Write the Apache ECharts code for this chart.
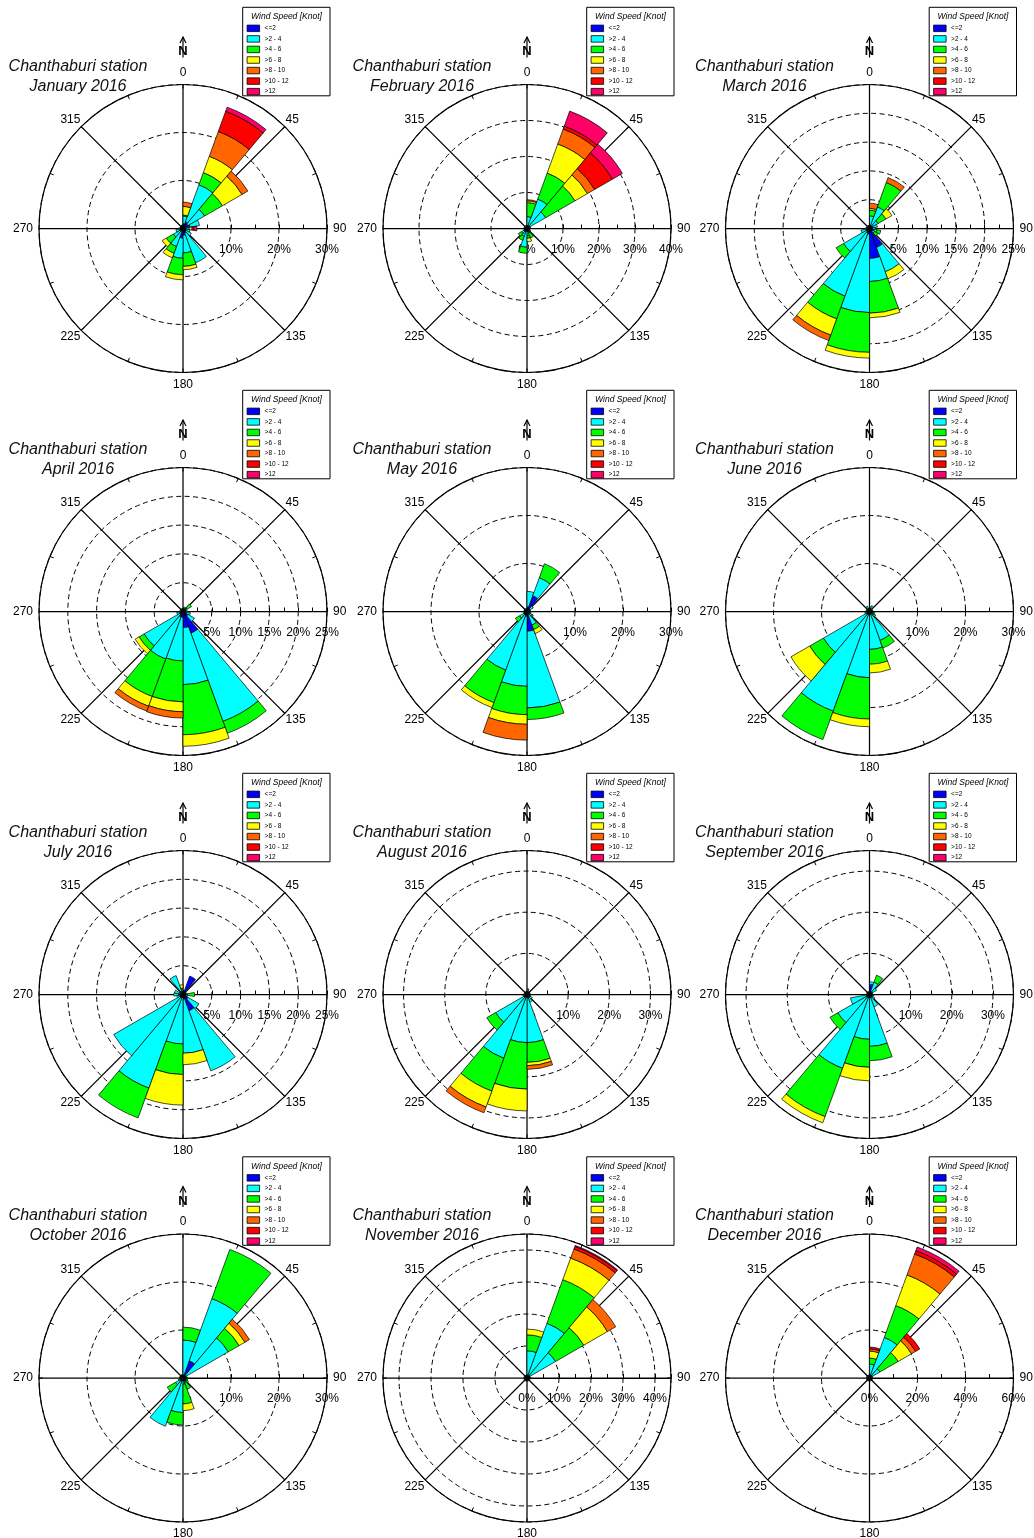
<!DOCTYPE html>
<html><head><meta charset="utf-8">
<script src="https://cdn.jsdelivr.net/npm/echarts@6/dist/echarts.min.js"></script>
<style>html,body{margin:0;padding:0;background:#fff}#c{width:1034px;height:1538px}</style>
</head><body><div id="c"></div>
<script>
// ---------------- DATA ----------------
const stationName = 'Chanthaburi station';
const months = ['January 2016','February 2016','March 2016','April 2016','May 2016','June 2016',
  'July 2016','August 2016','September 2016','October 2016','November 2016','December 2016'];
const legendTitle = 'Wind Speed [Knot]';
const speedClasses = ['<=2','>2 - 4','>4 - 6','>6 - 8','>8 - 10','>10 - 12','>12'];
const speedColors = ['#0000FF','#00FFFF','#00FF00','#FFFF00','#FF6600','#FF0000','#FF0066'];
// 18 direction sectors of 20 degrees, clockwise from north
const dirBins = ['0-20','20-40','40-60','60-80','80-100','100-120','120-140','140-160','160-180',
  '180-200','200-220','220-240','240-260','260-280','280-300','300-320','320-340','340-360'];
// radial scale of each rose (percent) and label step
const radiusMax  = [30,40,25,25,30,30,25,35,35,30,45,60];
const radiusStep = [10,10,5,5,10,10,5,10,10,10,10,20];
const showMaxPct = [true,true,true,true,true,true,true,false,false,true,false,true];

// frequency (%) per sector: [<=2, >2-4, >4-6, >6-8, >8-10, >10-12, >12]
const jan = [
 [1.0,1.6,0.2,1.8,0.9],[1.5,8.2,2.7,3.6,5.5,4.5,0.9],[1.2,4.0,4.3,4.7,1.4],[1.5,2.0],
 [0.5,0.8,0,0.6,0,0.4,0.6],[0.5,1.0],[0.5,1.5],[1.0,6.6],[1.4,3.7,2.8,0.7],
 [2.0,4.2,3.45,1.05],[0.5,3.5,1.5,1.0],[0.3,2.0,1.7,1.0],[0.3,1.2],
 [0.3,0.5],[0.2,0.3],[0.2,0.3],[0.3,0.3],[0.3,0.5]];
const feb = [
 [0.5,2.8,3.9,0.5,0.3],[0.5,8.2,7.7,8.6,4.4,0.9,4.4],[0.5,5.5,9.4,4.0,2.3,5.7,3.2],[0.3,0.7],
 [0.2,0.3],[0.2,0.5],[0.3,0.8],[0.3,1.0,1.5],[0.5,1.5,0.7,1.0],
 [0.5,4.7,1.7],[0.3,2.0,1.2],[0.3,1.5,1.0],[0.2,0.6],
 [0.2,0.3],[0.2,0.3],[0.2,0.3],[0.2,0.3],[0.2,0.3]];
const mar = [
 [0.5,1.7,1.0,0.3,0.9],[0.5,3.5,4.5,0,0.9],[0.4,1.3,1.6,1.2],[0.4,1.0],
 [0.4,0.6],[0.8,0.5,0.7],[0.6,0.4,0.7],[3.5,4.5,0,1.3],[5.2,4.0,5.5,0.8],
 [1.0,13.6,6.9,1.0],[0.8,11.7,4.2,3.0,1.0],[0.5,4.7,1.5],[0.3,1.2],
 [0.3,0.4],[0.2,0.3],[0.2,0.3],[0.2,0.3],[0.2,0.3]];
const apr = [
 [0.3,0.3],[0.3,0.5],[0.3,0.5,0.9],[0.2,0.3],
 [0.3,0.5],[0.5,0.8],[1.0,1.3],[4.0,16.3,2.2],[2.8,9.9,8.7,2.0],
 [1.0,7.6,7.1,1.7,1.1],[1.0,7.8,6.9,1.8,0.9],[0.5,7.3,1.0,0.8],[0.3,0.8],
 [0.2,0.2],[0.2,0.2],[0.2,0.2],[0.2,0.2],[0.2,0.2]];
const may = [
 [1.0,3.2],[3.5,4.0,3.1],[0.5,1.0],[0.3,0.4],
 [0.3,0.3],[0.3,0.5],[0.4,0.8,0.3],[0.5,2.5,1.0,0.9],[4.1,16.0,2.4],
 [1.0,14.6,5.9,2.0,3.3],[0.8,12.2,7.2,1.1],[0.3,1.5,1.0],[0.2,0.5],
 [0.2,0.3],[0.2,0.3],[0.2,0.3],[0.2,0.3],[0.2,0.3]];
const jun = [
 [0.3,0.7],[0.3,1.0],[0.2,0.4],[0.2,0.3],
 [0.2,0.3,0.3],[0.3,0.5,0.3],[0.3,0.8,0.4],[0.5,5.9,1.7],[0.5,7.4,3.1,1.8],
 [0.5,13.3,8.6,1.6],[0.5,21.6,6.3],[0.5,10.6,3.3,4.5],[0.3,0.7],
 [0.3,0.5],[0.2,0.4],[0.2,0.5],[0.3,0.9],[0.2,0.5]];
const jul = [
 [0.3,0.3],[3.4],[0.3,0.3],[0.3,0.3],
 [0.3,0.5,1.2],[0.3,0.5],[1.0,2.2],[3.0,11.1],[0.8,9.4,0,2.0],
 [0.5,8.1,5.3,5.3],[0.5,16.8,5.5],[0.5,13.4],[0.3,0.8],
 [0.8,0.8],[0.3,1.2],[0.3,0.5],[0.5,3.0],[0.3,0.5,0.3,0.6]];
const aug = [
 [0,0.5,0.3,0.2,0.4],[0.3,0.3],[0.3,0.3],[0.2,0.3],
 [0.3,0.5],[0.3,0.6],[0.3,1.2],[0.5,1.5],[0.5,11.2,4.8,0.8,0.9],
 [0.5,11.2,11.3,5.3],[0.5,16.0,8.5,4.1,1.5],[0.5,8.3,2.5],[0.3,0.7],
 [0.2,0.3],[0.2,0.3],[0.2,0.3],[0.2,0.3],[0.2,0.3]];
const sep = [
 [2.5,0.6],[0.5,2.7,1.8],[0.5,1.5],[0.2,0.4],
 [0.2,0.4],[0.3,0.7],[0.3,1.2],[0.5,2.7],[0.5,12.1,3.5],
 [0.5,10.4,6.8,3.3],[0.5,18.6,12.5,1.6],[0.5,8.4,2.2],[0.3,4.4],
 [0.2,0.5],[0.2,0.3],[0.2,0.3],[0.2,0.3],[0.2,0.3]];
const oct = [
 [0.5,7.4,2.7],[3.8,13.8,10.9],[0.5,10.4,2.6,1.4,1.1],[0.3,0.5],
 [0.3,0.4,0.3],[0.3,0.4,0.3],[0.3,0.5,0.5],[0.3,0.7,1.5],[0.5,0.8,4.1,1.4],
 [0.5,6.7,2.6],[0.5,10.2],[0.3,1.5,2.0],[0.2,0.4,0.4],
 [0.2,0.3,0.2],[0.2,0.3,0.2],[0.2,0.3,0.2],[0.2,0.3,0.2],[0.2,0.3,0.2]];
const nov = [
 [0.5,8.0,5.0,1.8],[0.5,17.7,14.5,7.2,3.0,0.9,0.3],[0.5,9.8,10.2,8.5,3.0],[0.3,0.5],
 [0.2,0.3,0.3,0.4],[0.2,0.3],[0.2,0.3],[0.2,0.3],[0.2,0.3],
 [0.2,0.3,0.4],[0.2,0.2],[0.2,0.2],[0.2,0.2],
 [0.2,0.2],[0.2,0.2],[0.2,0.2],[0.2,0.2],[0.2,0.2]];
const dec = [
 [0.5,5.3,2.5,2.9,0.9,0.8],[0.5,17.5,14.1,13.6,9.3,1.5,1.6],[0.5,4.5,8.8,6.4,2.0,2.0],[0.2,0.3],
 [0.2,0.2],[0.2,0.2],[0.2,0.2],[0.2,0.2],[0.2,0.2],
 [0.2,0.2],[0.2,0.2],[0.2,0.2],[0.2,0.2],
 [0.2,0.2],[0.2,0.2],[0.2,0.2],[0.2,0.2],[0.2,0.2]];
const monthData = [jan,feb,mar,apr,may,jun,jul,aug,sep,oct,nov,dec];

// ---------------- LAYOUT ----------------
const FONT = '"Liberation Sans", Arial, sans-serif';
const colX = [183, 527, 869.5];
const rowY = [228.5, 611.5, 994.5, 1378];
const R = 144;

const polar = [], angleAxis = [], radiusAxis = [], series = [], legend = [], gfx = [];

monthData.forEach((d, m) => {
  const cx = colX[m % 3], cy = rowY[Math.floor(m / 3)];
  const pDeco = 2 * m, pBar = 2 * m + 1;
  polar.push({ center: [cx, cy], radius: R });
  polar.push({ center: [cx, cy], radius: R });

  // decoration polar: compass circle, spokes, ticks, percent labels (radius axis along east)
  angleAxis.push({
    polarIndex: pDeco, type: 'value', min: 0, max: 360, interval: 45,
    startAngle: 0, clockwise: true, z: 1,
    axisLine: { show: true, lineStyle: { color: '#000', width: 1.2 } },
    axisTick: { show: true, inside: true, length: 4, lineStyle: { color: '#000', width: 1 } },
    minorTick: { show: true, splitNumber: 2, length: 4, lineStyle: { color: '#000', width: 1 } },
    splitLine: { show: true, lineStyle: { color: '#000', width: 1.25 } },
    axisLabel: {
      show: true, margin: 1, color: '#000', fontSize: 12, fontFamily: FONT,
      formatter: v => { const c = (v + 90) % 360; return c % 90 === 0 ? '{c|' + c + '}' : String(c); },
      rich: { c: { padding: [5, 5, 5, 5], fontSize: 12, fontFamily: FONT, color: '#000' } }
    }
  });
  radiusAxis.push({
    polarIndex: pDeco, type: 'value', min: 0, max: radiusMax[m], interval: radiusStep[m], z: 1,
    axisLine: { show: true, lineStyle: { color: '#000', width: 1.2 } },
    axisTick: { show: true, length: 4, lineStyle: { color: '#000', width: 1 } },
    minorTick: { show: true, splitNumber: 2, length: 4, lineStyle: { color: '#000', width: 1 } },
    splitLine: { show: true, lineStyle: { color: '#000', width: 1, type: [5, 3.5] } },
    axisLabel: {
      show: true, margin: -15, verticalAlign: 'top', formatter: '{value}%',
      color: '#000', fontSize: 12, fontFamily: FONT, showMaxLabel: showMaxPct[m]
    }
  });

  // bar polar: 18 sectors clockwise from north
  angleAxis.push({
    polarIndex: pBar, type: 'category', data: dirBins, startAngle: 90, clockwise: true,
    boundaryGap: true, axisLine: { show: false }, axisTick: { show: false },
    axisLabel: { show: false }, splitLine: { show: false }
  });
  radiusAxis.push({
    polarIndex: pBar, type: 'value', min: 0, max: radiusMax[m],
    axisLine: { show: false }, axisTick: { show: false }, axisLabel: { show: false }, splitLine: { show: false }
  });

  for (let k = 0; k < speedClasses.length; k++) {
    series.push({
      type: 'bar', name: speedClasses[k], coordinateSystem: 'polar', polarIndex: pBar,
      stack: 'rose' + m, barCategoryGap: '0%', z: 3,
      data: d.map(row => (row[k] ? row[k] : '-')),
      itemStyle: { color: speedColors[k], borderColor: '#000', borderWidth: 0.7 }
    });
  }
  series.push({
    type: 'scatter', coordinateSystem: 'polar', polarIndex: pBar, data: [[0, 0]],
    symbolSize: 7, itemStyle: { color: '#000' }, z: 6, silent: true
  });

  legend.push({
    orient: 'vertical', left: cx + 63.7, top: cy - 203.8, padding: 0,
    itemWidth: 12.5, itemHeight: 6.5, itemGap: 3.25, selectedMode: false,
    data: speedClasses.map(n => ({ name: n, icon: 'rect' })),
    itemStyle: { borderColor: '#000', borderWidth: 0.8 },
    textStyle: { fontSize: 6.5, lineHeight: 6.5, color: '#000', fontFamily: FONT }
  });

  gfx.push(
    { type: 'rect', z: 0, shape: { x: cx + 59.7, y: cy - 221.2, width: 87.3, height: 88.5 },
      style: { fill: '#fff', stroke: '#000', lineWidth: 1 } },
    { type: 'text', z: 5, x: cx + 103.5, y: cy - 211.5,
      style: { text: legendTitle, fontSize: 8.5, fontStyle: 'italic', fontFamily: FONT, fill: '#000',
        align: 'center', verticalAlign: 'middle', textAlign: 'center', textVerticalAlign: 'middle' } },
    { type: 'text', z: 5, x: cx - 105, y: cy - 162.4,
      style: { text: stationName, fontSize: 16, fontStyle: 'italic', fontFamily: FONT, fill: '#111',
        align: 'center', verticalAlign: 'middle', textAlign: 'center', textVerticalAlign: 'middle' } },
    { type: 'text', z: 5, x: cx - 105, y: cy - 142.4,
      style: { text: months[m], fontSize: 16, fontStyle: 'italic', fontFamily: FONT, fill: '#111',
        align: 'center', verticalAlign: 'middle', textAlign: 'center', textVerticalAlign: 'middle' } },
    { type: 'text', z: 5, x: cx, y: cy - 177,
      style: { text: 'N', fontSize: 13, fontWeight: 'bold', fontFamily: FONT, fill: '#000',
        align: 'center', verticalAlign: 'middle', textAlign: 'center', textVerticalAlign: 'middle' } },
    { type: 'line', z: 5, shape: { x1: cx, y1: cy - 191.5, x2: cx, y2: cy - 171 },
      style: { stroke: '#000', lineWidth: 1.2 } },
    { type: 'polyline', z: 5, shape: { points: [[cx - 3, cy - 185.5], [cx, cy - 191.5], [cx + 3, cy - 185.5]] },
      style: { stroke: '#000', lineWidth: 1.2, fill: null } }
  );
});

const chart = echarts.init(document.getElementById('c'), null, { renderer: 'canvas' });
chart.setOption({
  animation: false,
  backgroundColor: '#fff',
  polar, angleAxis, radiusAxis, series, legend,
  graphic: { elements: gfx }
});
</script></body></html>
